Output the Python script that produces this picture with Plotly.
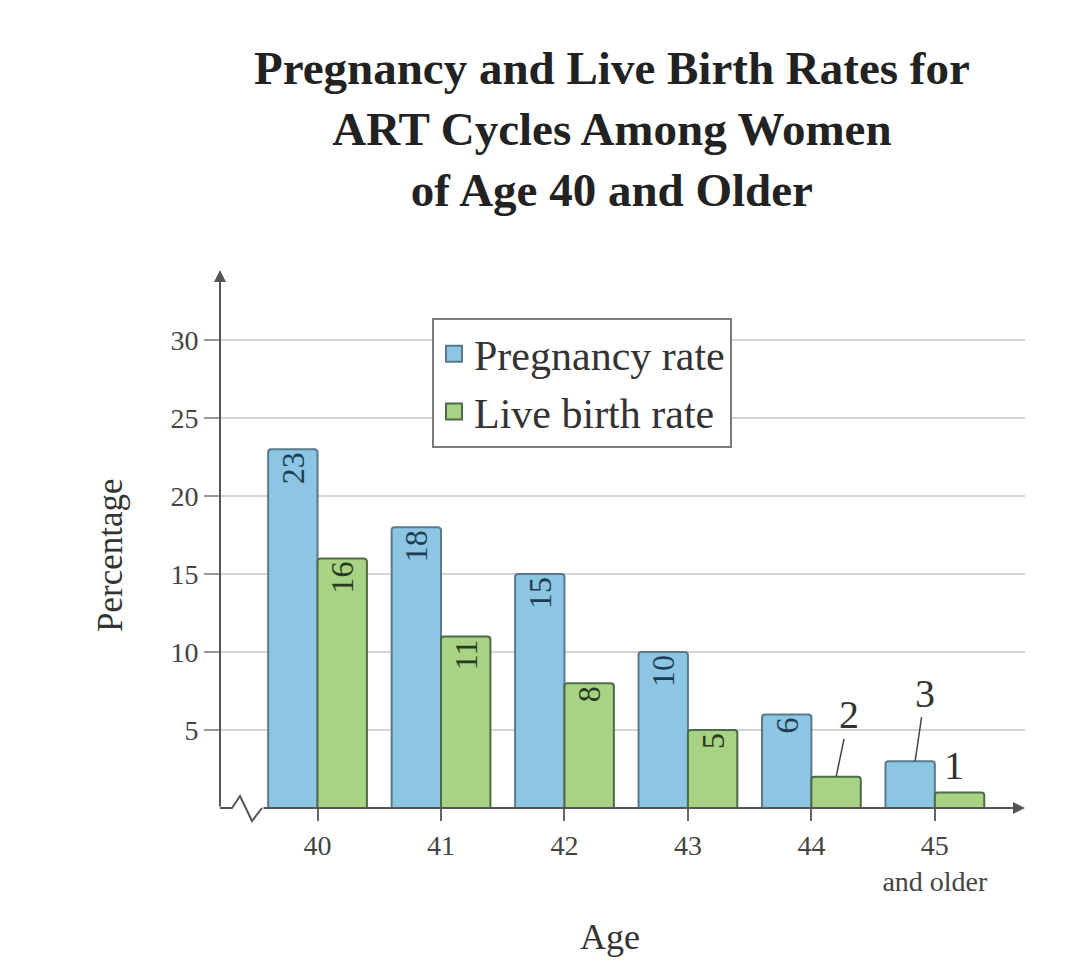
import plotly.graph_objects as go

ages = ["40", "41", "42", "43", "44", "45 and older"]
age_ticktext = ["40", "41", "42", "43", "44", "45<br>and older"]
pregnancy_rate = [23, 18, 15, 10, 6, 3]
live_birth_rate = [16, 11, 8, 5, 2, 1]
y_ticks = [5, 10, 15, 20, 25, 30]

SERIF = "Liberation Serif, Times New Roman, serif"
BLUE = "#8cc6e3"
GREEN = "#a9d384"
BLUE_EDGE = "#5a7a8c"
GREEN_EDGE = "#4f6b45"

# page has an 8px body margin; figure is sized to fit the window
OFF = 8
W, H = 1088 - OFF, 966 - OFF
L, R, T, B = 220 - OFF, 63, 270 - OFF, 158
pw, ph = W - L - R, H - T - B


def px(x):
    """reference-picture x pixel -> paper x"""
    return (x - OFF - L) / pw


def py(y):
    """reference-picture y pixel -> paper y"""
    return (T + ph - (y - OFF)) / ph


def inside_labels(vals):
    return [str(v) if v >= 5 else "" for v in vals]


fig = go.Figure()
fig.add_trace(go.Bar(
    x=ages, y=pregnancy_rate, name="Pregnancy rate", showlegend=False,
    marker=dict(color=BLUE, line=dict(color=BLUE_EDGE, width=2)),
    text=inside_labels(pregnancy_rate), textposition="inside",
    insidetextanchor="end", textangle=-90,
    textfont=dict(family=SERIF, size=32, color="#1e3d55"),
))
fig.add_trace(go.Bar(
    x=ages, y=live_birth_rate, name="Live birth rate", showlegend=False,
    marker=dict(color=GREEN, line=dict(color=GREEN_EDGE, width=2)),
    text=inside_labels(live_birth_rate), textposition="inside",
    insidetextanchor="end", textangle=-90,
    textfont=dict(family=SERIF, size=32, color="#2a3a22"),
))
# legend entries with larger swatches
for name, col, edge in [("Pregnancy rate", BLUE, BLUE_EDGE),
                        ("Live birth rate", GREEN, GREEN_EDGE)]:
    fig.add_trace(go.Scatter(
        x=[None], y=[None], mode="markers", name=name,
        marker=dict(symbol="square", size=27, color=col,
                    line=dict(color=edge, width=2)),
    ))

fig.update_layout(
    width=W, height=H,
    margin=dict(l=L, r=R, t=T, b=B, pad=0),
    paper_bgcolor="white", plot_bgcolor="white",
    barmode="group", bargap=0.2, bargroupgap=0,
    barcornerradius=3,
    font=dict(family=SERIF, color="#333"),
    showlegend=True,
    legend=dict(
        x=px(432), y=py(318), xanchor="left", yanchor="top",
        bgcolor="white", bordercolor="#7a7a7a", borderwidth=2,
        font=dict(family=SERIF, size=42, color="#333"),
        itemsizing="trace", tracegroupgap=0, itemwidth=30,
    ),
    xaxis=dict(
        type="category", categoryorder="array", categoryarray=ages,
        range=[-0.79, 5.73],
        tickmode="array", tickvals=ages, ticktext=age_ticktext,
        ticks="outside", ticklen=12, tickwidth=2, tickcolor="#666",
        tickfont=dict(family=SERIF, size=28, color="#444"),
        showgrid=False, showline=False, zeroline=False,
    ),
    yaxis=dict(
        range=[0, 34.5],
        tickmode="array", tickvals=y_ticks,
        ticks="outside", ticklen=15, tickwidth=2, tickcolor="#999",
        tickfont=dict(family=SERIF, size=28, color="#444"),
        showgrid=True, gridcolor="#d4d4d4", gridwidth=2,
        showline=False, zeroline=False,
    ),
)

# axes with arrows
fig.add_annotation(x=0, y=1, xref="x domain", yref="y domain", ax=0, ay=ph,
                   text="", showarrow=True, arrowhead=2, arrowsize=1.2,
                   arrowwidth=2, arrowcolor="#555")
fig.add_annotation(x=1, y=0, xref="x domain", yref="y domain",
                   ax=-(1025 - 262), ay=0,
                   text="", showarrow=True, arrowhead=2, arrowsize=1.2,
                   arrowwidth=2, arrowcolor="#555")

# axis break zigzag near the origin
pts = [(220, 808), (232, 808), (240, 796), (252, 821), (262, 808)]
path = ""
for i, (xx, yy) in enumerate(pts):
    path += ("M" if i == 0 else "L") + f"{px(xx):.5f},{py(yy):.5f} "
fig.add_shape(type="path", xref="paper", yref="paper", path=path,
              line=dict(color="#555", width=2))

# outside value labels with leader lines
fig.add_annotation(x=4.2, y=live_birth_rate[4], xref="x", yref="y",
                   text=str(live_birth_rate[4]), showarrow=True, arrowhead=0,
                   arrowwidth=1.5, arrowcolor="#444", ax=13, ay=-62,
                   font=dict(family=SERIF, size=40, color="#333"))
fig.add_annotation(x=4.84, y=pregnancy_rate[5], xref="x", yref="y",
                   text=str(pregnancy_rate[5]), showarrow=True, arrowhead=0,
                   arrowwidth=1.5, arrowcolor="#444", ax=10, ay=-68,
                   font=dict(family=SERIF, size=40, color="#333"))
fig.add_annotation(x=5.2, y=live_birth_rate[5], xref="x", yref="y",
                   text=str(live_birth_rate[5]), showarrow=False,
                   xshift=-6, yanchor="bottom", yshift=2,
                   font=dict(family=SERIF, size=40, color="#333"))

# title
fig.add_annotation(
    x=px(612), y=py(40), xref="paper", yref="paper",
    xanchor="center", yanchor="top", showarrow=False,
    text="<b>Pregnancy and Live Birth Rates for<br>ART Cycles Among Women<br>of Age 40 and Older</b>",
    font=dict(family=SERIF, size=47, color="#222"),
)
# axis titles
fig.add_annotation(x=px(110), y=py(555), xref="paper", yref="paper",
                   text="Percentage", textangle=-90, showarrow=False,
                   xanchor="center", yanchor="middle",
                   font=dict(family=SERIF, size=35, color="#333"))
fig.add_annotation(x=px(610), y=py(937), xref="paper", yref="paper",
                   text="Age", showarrow=False,
                   xanchor="center", yanchor="middle",
                   font=dict(family=SERIF, size=36, color="#333"))

fig.write_html("out.html")
